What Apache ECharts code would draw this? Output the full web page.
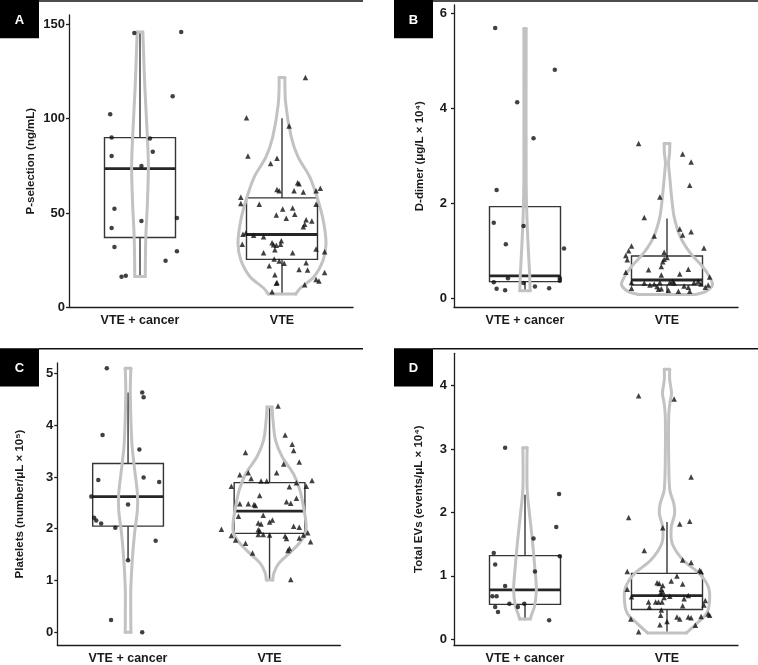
<!DOCTYPE html>
<html><head><meta charset="utf-8">
<script src="https://cdn.jsdelivr.net/npm/echarts@6/dist/echarts.min.js"></script>
<style>html,body{margin:0;padding:0;background:#fff}#c{width:758px;height:665px}</style>
</head><body><div id="c"></div><script>
const categories = ['VTE + cancer', 'VTE'];

// ---- Panel A: P-selection ----
const pselTicks = [0, 50, 100, 150];
const pselCancer = [[0.96,145.5],[1.29,146.0],[1.23,111.9],[0.79,102.4],[0.80,90.1],[1.07,89.5],[1.09,82.5],[0.80,80.2],[1.01,74.9],[0.82,52.3],[1.01,45.7],[1.26,47.3],[0.80,42.0],[0.82,32.0],[1.26,29.7],[1.18,24.7],[0.87,16.2],[0.90,16.7]];
const pselVTE = [[2.165,121.9],[1.75,100.5],[2.05,96.1],[1.76,80.2],[1.965,79.1],[1.92,76.3],[1.965,62.5],[1.98,61.8],[2.11,66.0],[2.12,65.5],[2.085,61.8],[2.15,61.1],[2.27,63.1],[2.24,61.8],[1.71,58.3],[1.71,55.1],[1.84,54.6],[2.24,54.6],[2.005,52.1],[2.075,52.6],[1.96,48.9],[2.09,49.4],[2.03,47.2],[2.17,46.4],[2.21,45.7],[2.16,44.0],[2.15,42.7],[1.725,38.7],[1.745,39.4],[1.80,38.2],[1.87,37.4],[1.72,33.5],[1.93,34.2],[1.94,33.2],[1.995,35.3],[1.99,33.5],[1.96,32.9],[1.95,30.5],[2.24,30.9],[2.30,29.5],[1.87,28.9],[2.075,28.9],[1.945,25.6],[1.98,24.5],[2.015,23.3],[1.91,22.0],[2.17,23.6],[2.12,20.1],[2.18,19.8],[1.95,17.3],[2.30,18.5],[2.24,14.8],[2.26,13.9],[1.965,13.2],[1.96,12.7],[2.16,12.0],[1.93,8.3]];
const pselBox = [[16.6,37.0,73.5,90.0,145.3],[7.6,25.4,38.6,58.0,100.2]];
const pselViolinCancer = [[16.3,0.037],[25,0.038],[37.4,0.041],[55,0.052],[74.5,0.059],[90.4,0.052],[117,0.034],[146,0.02]];
const pselViolinVTE = [[7.0,0.097],[10.1,0.128],[16.2,0.225],[25.1,0.29],[33.9,0.31],[46.3,0.29],[58.6,0.246],[69.2,0.195],[79.8,0.113],[90.4,0.065],[108,0.026],[121.9,0.02]];

// ---- Panel B: D-dimer ----
const ddTicks = [0, 2, 4, 6];
const ddCancer = [[0.79,5.69],[1.21,4.81],[0.945,4.13],[1.06,3.37],[0.80,2.28],[0.78,1.59],[0.99,1.52],[0.865,1.14],[1.275,1.05],[1.245,0.42],[1.245,0.37],[0.88,0.42],[0.78,0.34],[0.99,0.32],[1.07,0.25],[0.80,0.20],[0.86,0.17],[1.17,0.21]];
const ddVTE = [[1.80,3.26],[2.11,3.04],[2.17,2.87],[2.16,2.38],[1.95,2.13],[1.84,1.70],[2.09,1.46],[2.11,1.33],[2.17,1.40],[1.91,1.31],[2.26,1.06],[1.75,1.10],[1.73,1.00],[1.71,0.90],[1.72,0.81],[1.98,0.97],[2.0,0.86],[1.98,0.82],[1.97,0.77],[1.71,0.55],[1.87,0.60],[1.96,0.67],[2.15,0.61],[1.96,0.49],[2.09,0.51],[2.30,0.45],[1.75,0.33],[1.91,0.30],[1.95,0.33],[2.02,0.33],[2.05,0.32],[2.19,0.33],[2.24,0.30],[1.88,0.28],[1.93,0.25],[2.12,0.26],[2.15,0.23],[2.29,0.28],[1.75,0.21],[1.94,0.19],[1.96,0.20],[2.08,0.15],[2.16,0.15],[2.27,0.23],[2.04,0.36],[2.22,0.36],[1.84,0.32],[2.01,0.17]];
const ddBox = [[0.17,0.35,0.47,1.93,4.13],[0.105,0.28,0.385,0.89,1.68]];
const ddViolinCancer = [[0.16,0.036],[0.49,0.033],[1.05,0.023],[1.75,0.013],[2.5,0.008],[5.68,0.008]];
const ddViolinVTE = [[0.08,0.20],[0.14,0.27],[0.28,0.32],[0.45,0.30],[0.67,0.25],[0.95,0.165],[1.30,0.093],[1.72,0.05],[2.14,0.032],[2.56,0.019],[2.85,0.011],[3.05,0.018],[3.26,0.02]];

// ---- Panel C: Platelets ----
const pltTicks = [0, 1, 2, 3, 4, 5];
const pltCancer = [[0.85,5.10],[1.10,4.63],[1.11,4.54],[0.82,3.81],[1.08,3.53],[0.79,2.94],[1.11,2.99],[1.22,2.90],[0.74,2.62],[1.0,2.47],[0.76,2.21],[0.775,2.16],[0.81,2.10],[0.91,2.02],[1.195,1.77],[1.0,1.39],[0.88,0.24],[1.10,0.0]];
const pltVTE = [[2.06,4.37],[2.11,3.81],[2.16,3.63],[2.17,3.51],[1.83,3.47],[2.21,3.29],[2.10,3.25],[1.79,3.04],[1.85,3.08],[2.05,3.08],[1.87,2.97],[1.94,2.92],[1.98,2.92],[2.19,2.89],[2.30,2.93],[1.73,2.82],[2.26,2.82],[2.14,2.81],[1.93,2.64],[2.19,2.59],[2.12,2.52],[2.15,2.49],[1.79,2.48],[1.85,2.48],[1.89,2.47],[1.90,2.45],[1.955,2.26],[1.78,2.24],[2.02,2.17],[2.0,2.13],[1.92,2.11],[1.94,2.09],[2.17,2.05],[2.21,2.03],[1.66,1.99],[1.92,1.98],[1.93,1.96],[1.955,1.89],[1.92,1.89],[2.0,1.88],[1.73,1.87],[1.76,1.78],[2.11,1.86],[2.12,1.81],[2.21,1.82],[2.24,1.88],[2.27,1.92],[2.29,1.75],[1.83,1.72],[1.88,1.53],[2.14,1.62],[2.13,1.58],[2.15,1.02]];
const pltBox = [[1.40,2.05,2.62,3.26,4.63],[1.01,1.91,2.34,2.89,4.34]];
const pltViolinCancer = [[0.0,0.02],[0.5,0.019],[0.89,0.02],[1.40,0.03],[1.91,0.046],[2.36,0.066],[2.68,0.066],[3.20,0.044],[3.65,0.027],[4.62,0.016],[5.10,0.02]];
const pltViolinVTE = [[1.01,0.023],[1.14,0.03],[1.33,0.065],[1.52,0.137],[1.72,0.21],[1.91,0.253],[2.10,0.258],[2.42,0.24],[2.75,0.214],[3.07,0.167],[3.39,0.089],[3.71,0.042],[4.10,0.024],[4.35,0.018]];

// ---- Panel D: Total EVs ----
const evTicks = [0, 1, 2, 3, 4];
const evCancer = [[0.86,3.02],[1.24,2.29],[1.22,1.77],[1.06,1.59],[0.78,1.36],[1.245,1.31],[0.79,1.18],[1.07,1.07],[0.86,0.84],[0.77,0.68],[0.80,0.68],[0.89,0.56],[0.95,0.51],[0.995,0.56],[0.79,0.51],[0.81,0.43],[1.17,0.30]];
const evVTE = [[1.80,3.84],[2.05,3.79],[2.17,2.56],[1.73,1.92],[2.16,1.86],[2.09,1.82],[1.97,1.76],[1.84,1.40],[2.11,1.25],[2.17,1.21],[1.72,1.07],[2.23,1.09],[2.24,1.07],[2.07,1.00],[2.03,0.92],[1.93,0.89],[1.945,0.88],[1.97,0.85],[2.11,0.87],[1.96,0.79],[1.97,0.75],[1.955,0.73],[1.72,0.79],[2.02,0.68],[1.98,0.66],[2.15,0.69],[1.75,0.67],[1.92,0.59],[1.94,0.59],[1.965,0.59],[1.87,0.59],[2.27,0.61],[2.12,0.64],[2.26,0.54],[1.876,0.51],[2.11,0.53],[1.96,0.46],[2.29,0.40],[2.30,0.38],[1.955,0.38],[2.24,0.36],[2.07,0.35],[2.09,0.32],[2.15,0.35],[2.17,0.34],[1.745,0.32],[2.0,0.28],[2.20,0.22],[1.95,0.23],[1.80,0.12]];
const evBox = [[0.30,0.55,0.78,1.32,2.28],[0.12,0.47,0.69,1.04,1.85]];
const evViolinCancer = [[0.32,0.038],[0.37,0.044],[0.53,0.068],[0.79,0.08],[1.16,0.068],[1.58,0.051],[1.95,0.033],[2.37,0.015],[3.02,0.015]];
const evViolinVTE = [[0.10,0.137],[0.25,0.21],[0.41,0.28],[0.62,0.30],[0.83,0.29],[1.04,0.226],[1.25,0.113],[1.51,0.037],[1.77,0.03],[1.98,0.054],[2.14,0.048],[2.35,0.02],[2.83,0.012],[3.51,0.012],[3.72,0.02],[3.88,0.032],[4.09,0.019],[4.26,0.019]];

const FONT = '"Liberation Sans", Arial, Helvetica, sans-serif';
const AXIS_COLOR = '#1e1e1e';
const panels = [
  {grid:{left:69, top:15, width:284, height:292.3}, yMin:0, yMax:155, ticks:pselTicks, name:'P-selection (ng/mL)', nameGap:32, labelMargin:4, cancer:pselCancer, vte:pselVTE, box:pselBox, violins:[pselViolinCancer, pselViolinVTE]},
  {grid:{left:454, top:5, width:284, height:302.3}, yMin:-0.19, yMax:6.175, ticks:ddTicks, name:'D-dimer (μg/L × 10⁴)', nameGap:28, labelMargin:7, cancer:ddCancer, vte:ddVTE, box:ddBox, violins:[ddViolinCancer, ddViolinVTE]},
  {grid:{left:57.3, top:363, width:283, height:282}, yMin:-0.245, yMax:5.2, ticks:pltTicks, name:'Platelets (number/μL × 10⁵)', nameGap:31, labelMargin:4, cancer:pltCancer, vte:pltVTE, box:pltBox, violins:[pltViolinCancer, pltViolinVTE]},
  {grid:{left:454, top:353.3, width:284, height:291.7}, yMin:-0.09, yMax:4.51, ticks:evTicks, name:'Total EVs (events/μL × 10⁴)', nameGap:29, labelMargin:7, cancer:evCancer, vte:evVTE, box:evBox, violins:[evViolinCancer, evViolinVTE]}
];

function boxRender(params, api) {
  const c = api.value(0);
  const mn = api.value(1), q1 = api.value(2), md = api.value(3), q3 = api.value(4), mx = api.value(5);
  const half = 0.25;
  const tl = api.coord([c - half, q3]);
  const br = api.coord([c + half, q1]);
  const ml = api.coord([c - half, md]), mr = api.coord([c + half, md]);
  const wTop = api.coord([c, mx]), wQ3 = api.coord([c, q3]), wQ1 = api.coord([c, q1]), wBot = api.coord([c, mn]);
  const st = {stroke:'#353535', lineWidth:1.4, fill:null};
  return {type:'group', children:[
    {type:'line', shape:{x1:wQ3[0], y1:wQ3[1], x2:wTop[0], y2:wTop[1]}, style:st},
    {type:'line', shape:{x1:wQ1[0], y1:wQ1[1], x2:wBot[0], y2:wBot[1]}, style:st},
    {type:'rect', shape:{x:tl[0], y:tl[1], width:br[0]-tl[0], height:br[1]-tl[1]}, style:st},
    {type:'line', shape:{x1:ml[0], y1:ml[1], x2:mr[0], y2:mr[1]}, style:{stroke:'#262626', lineWidth:2.8}}
  ]};
}

function makeViolinRender(profiles) {
  return function (params, api) {
    const c = api.value(0);
    const prof = profiles[params.dataIndex];
    const right = prof.map(p => api.coord([c + p[1], p[0]]));
    const left = prof.map(p => api.coord([c - p[1], p[0]]));
    const n = prof.length - 1;
    const st = {stroke:'#c2c2c2', lineWidth:3, fill:null, lineJoin:'round', lineCap:'round'};
    return {type:'group', children:[
      {type:'polyline', shape:{points:right, smooth:0.3}, style:st},
      {type:'polyline', shape:{points:left, smooth:0.3}, style:st},
      {type:'line', shape:{x1:left[0][0], y1:left[0][1], x2:right[0][0], y2:right[0][1]}, style:st},
      {type:'line', shape:{x1:left[n][0], y1:left[n][1], x2:right[n][0], y2:right[n][1]}, style:st}
    ]};
  };
}

const option = {animation:false, grid:[], xAxis:[], yAxis:[], series:[], graphic:[]};
panels.forEach((p, k) => {
  option.grid.push(Object.assign({containLabel:false}, p.grid));
  option.xAxis.push({
    type:'category', gridIndex:k, data:categories, boundaryGap:true,
    axisLine:{onZero:false, lineStyle:{color:AXIS_COLOR, width:1.3}},
    axisTick:{alignWithLabel:true, length:4, lineStyle:{color:AXIS_COLOR, width:1.3}},
    axisLabel:{fontFamily:FONT, fontWeight:'bold', fontSize:12.5, color:'#1a1a1a', margin:7},
    splitLine:{show:false}
  });
  option.xAxis.push({type:'value', gridIndex:k, min:0.5, max:2.5, show:false});
  option.yAxis.push({
    type:'value', gridIndex:k, min:p.yMin, max:p.yMax,
    name:p.name, nameLocation:'middle', nameGap:p.nameGap, nameRotate:90,
    nameTextStyle:{fontFamily:FONT, fontWeight:'bold', fontSize:11.5, color:'#1a1a1a'},
    axisLine:{show:true, onZero:false, lineStyle:{color:AXIS_COLOR, width:1.3}},
    axisTick:{show:true, length:3, customValues:p.ticks, lineStyle:{color:AXIS_COLOR, width:1.3}},
    axisLabel:{customValues:p.ticks, fontFamily:FONT, fontWeight:'bold', fontSize:13, color:'#1a1a1a', margin:p.labelMargin},
    splitLine:{show:false}
  });
  const xi = 2*k + 1;
  option.series.push({
    type:'custom', xAxisIndex:xi, yAxisIndex:k, z:2, renderItem:boxRender,
    encode:{x:0, y:[1,2,3,4,5]},
    data:p.box.map((s, i) => [i + 1].concat(s))
  });
  option.series.push({
    type:'custom', xAxisIndex:xi, yAxisIndex:k, z:3, renderItem:makeViolinRender(p.violins),
    data:p.violins.map((v, i) => [i + 1, v[0][0]])
  });
  option.series.push({
    type:'scatter', xAxisIndex:xi, yAxisIndex:k, z:4, symbol:'circle', symbolSize:4.5,
    itemStyle:{color:'#111'}, data:p.cancer
  });
  option.series.push({
    type:'scatter', xAxisIndex:xi, yAxisIndex:k, z:4, symbol:'triangle', symbolSize:5.5,
    itemStyle:{color:'#111'}, data:p.vte
  });
});

const labels = [
  {t:'A', box:[0,0], line:[39,1,363]},
  {t:'B', box:[394,0], line:[433,1,758]},
  {t:'C', box:[0,348.3], line:[39,348.8,363]},
  {t:'D', box:[394,348.3], line:[433,348.8,758]}
];
labels.forEach(l => {
  option.graphic.push({type:'rect', shape:{x:l.box[0], y:l.box[1], width:39, height:38.3}, style:{fill:'#000'}, z:10});
  option.graphic.push({type:'text', x:l.box[0] + 19.5, y:l.box[1] + 20, z:11,
    style:{text:l.t, fill:'#fff', font:'bold 13px ' + FONT, align:'center', verticalAlign:'middle'}});
  option.graphic.push({type:'line', shape:{x1:l.line[0], y1:l.line[1], x2:l.line[2], y2:l.line[1]}, style:{stroke:'#111', lineWidth:1.4}, z:10});
});

const chart = echarts.init(document.getElementById('c'), null, {renderer:'canvas'});
chart.setOption(option);
</script></body></html>
